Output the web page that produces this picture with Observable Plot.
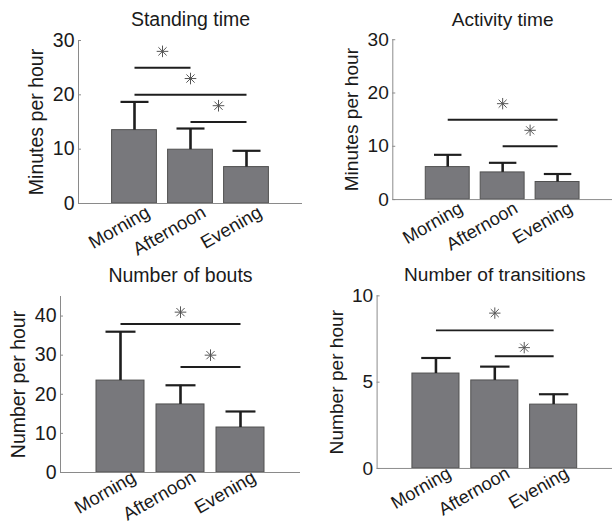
<!DOCTYPE html>
<html>
<head>
<meta charset="utf-8">
<script src="https://cdn.jsdelivr.net/npm/d3@7"></script>
<script src="https://cdn.jsdelivr.net/npm/@observablehq/plot@0.6"></script>
<style>
  html, body { margin: 0; padding: 0; background: #fff; overflow: hidden; }
  #wrap { position: relative; width: 612px; height: 526px; overflow: hidden; background: #fff; }
  .panel { position: absolute; }
</style>
</head>
<body>
<div id="wrap"></div>
<script>
// ---- data ----
const categories = ["Morning", "Afternoon", "Evening"];
const positions = [1, 2, 3];

const standingMean = [13.5, 9.9, 6.7];
const standingTop  = [18.7, 13.8, 9.7];
const standingSig  = [ {from: 1, to: 2, y: 25, star: 28},
                       {from: 1, to: 3, y: 20, star: 23},
                       {from: 2, to: 3, y: 15, star: 18} ];

const activityMean = [6.1, 5.1, 3.3];
const activityTop  = [8.4, 6.9, 4.8];
const activitySig  = [ {from: 1, to: 3, y: 15, star: 18},
                       {from: 2, to: 3, y: 10, star: 13} ];

const boutsMean = [23.5, 17.4, 11.5];
const boutsTop  = [36.0, 22.3, 15.6];
const boutsSig  = [ {from: 1, to: 3, y: 38, star: 41},
                    {from: 2, to: 3, y: 27, star: 30} ];

const transMean = [5.5, 5.1, 3.7];
const transTop  = [6.4, 5.9, 4.3];
const transSig  = [ {from: 1, to: 3, y: 8, star: 9},
                    {from: 2, to: 3, y: 6.5, star: 7} ];

const titles = ["Standing time", "Activity time", "Number of bouts", "Number of transitions"];
const yLabels = ["Minutes per hour", "Minutes per hour", "Number per hour", "Number per hour"];
const yTicks = [[0, 10, 20, 30], [0, 10, 20, 30], [0, 10, 20, 30, 40], [0, 5, 10]];
const yMax = [30, 30, 45, 10];

// ---- drawing ----
const FONT = "'Liberation Sans', Arial, Helvetica, sans-serif";
const asterisk = {
  draw(context, size) {
    const r = Math.sqrt(size / Math.PI);
    const d = r * Math.SQRT1_2;
    context.moveTo(-r, 0); context.lineTo(r, 0);
    context.moveTo(0, -r); context.lineTo(0, r);
    context.moveTo(-d, -d); context.lineTo(d, d);
    context.moveTo(-d, d); context.lineTo(d, -d);
  }
};

function panel({title, ylabel, ticks, ymax, means, tops, sig, left, top, width, height, ml, mt, mb, titleDy, labelDy}) {
  const data = categories.map((c, i) => ({cat: c, pos: positions[i], mean: means[i], top: tops[i]}));
  const chart = Plot.plot({
    width, height,
    marginLeft: ml, marginRight: 0, marginTop: mt, marginBottom: mb,
    style: {fontFamily: FONT, fontSize: "19px", color: "#1a1a1a", background: "transparent", overflow: "visible"},
    x: {domain: [0, 4], axis: null},
    y: {domain: [0, ymax], axis: null},
    marks: [
      Plot.rect(data, {x1: d => d.pos - 0.4, x2: d => d.pos + 0.4, y1: 0, y2: "mean",
                       fill: "#78787c", stroke: "#505050", strokeWidth: 1}),
      Plot.ruleY([0], {stroke: "#8a8a8a", strokeWidth: 1}),
      Plot.ruleX([0], {stroke: "#8a8a8a", strokeWidth: 1}),
      Plot.axisY({ticks, tickSize: -3, tickPadding: 7, tickFormat: d => String(d), stroke: "#8a8a8a",
                  fill: "#1a1a1a", fontSize: 19.5, label: null}),
      Plot.ruleX(data, {x: "pos", y1: "mean", y2: "top", stroke: "#1e1e1e", strokeWidth: 2.6}),
      Plot.link(data, {x1: d => d.pos - 0.25, x2: d => d.pos + 0.25, y1: "top", y2: "top",
                       stroke: "#1e1e1e", strokeWidth: 2.2}),
      Plot.link(sig, {x1: "from", x2: "to", y1: "y", y2: "y", stroke: "#1e1e1e", strokeWidth: 2}),
      Plot.dot(sig, {x: d => (d.from + d.to) / 2, y: "star", symbol: asterisk, r: 5.8,
                     stroke: "#555", fill: "none", strokeWidth: 1}),
      Plot.text(data, {x: "pos", text: "cat", frameAnchor: "bottom", rotate: -30,
                       textAnchor: "end", lineAnchor: "top", dx: 10, dy: labelDy, fontSize: 18.5, fill: "#1a1a1a"}),
      Plot.text([title], {text: d => d, frameAnchor: "top", lineAnchor: "middle", dy: titleDy,
                          fontSize: 19.5, fill: "#1a1a1a"}),
      Plot.text([ylabel], {text: d => d, frameAnchor: "left", rotate: -90, textAnchor: "middle",
                           lineAnchor: "top", dx: -49, fontSize: 19.5, fill: "#1a1a1a"})
    ]
  });
  const div = document.createElement("div");
  div.className = "panel";
  div.style.left = left + "px";
  div.style.top = top + "px";
  div.appendChild(chart);
  document.getElementById("wrap").appendChild(div);
}

panel({title: titles[0], ylabel: yLabels[0], ticks: yTicks[0], ymax: yMax[0], means: standingMean, tops: standingTop, sig: standingSig,
       left: 0, top: 0, width: 302, height: 263, ml: 78, mt: 40, mb: 60, titleDy: -20.5, labelDy: 1});
panel({title: titles[1], ylabel: yLabels[1], ticks: yTicks[1], ymax: yMax[1], means: activityMean, tops: activityTop, sig: activitySig,
       left: 306, top: 0, width: 312, height: 263, ml: 88, mt: 40, mb: 60, titleDy: -20.5, labelDy: 1});
panel({title: titles[2], ylabel: yLabels[2], ticks: yTicks[2], ymax: yMax[2], means: boutsMean, tops: boutsTop, sig: boutsSig,
       left: 0, top: 263, width: 300, height: 263, ml: 60, mt: 33, mb: 54, titleDy: -21, labelDy: -3});
panel({title: titles[3], ylabel: yLabels[3], ticks: yTicks[3], ymax: yMax[3], means: transMean, tops: transTop, sig: transSig,
       left: 306, top: 263, width: 312, height: 263, ml: 72, mt: 33, mb: 54, titleDy: -21, labelDy: -3});
</script>
</body>
</html>
